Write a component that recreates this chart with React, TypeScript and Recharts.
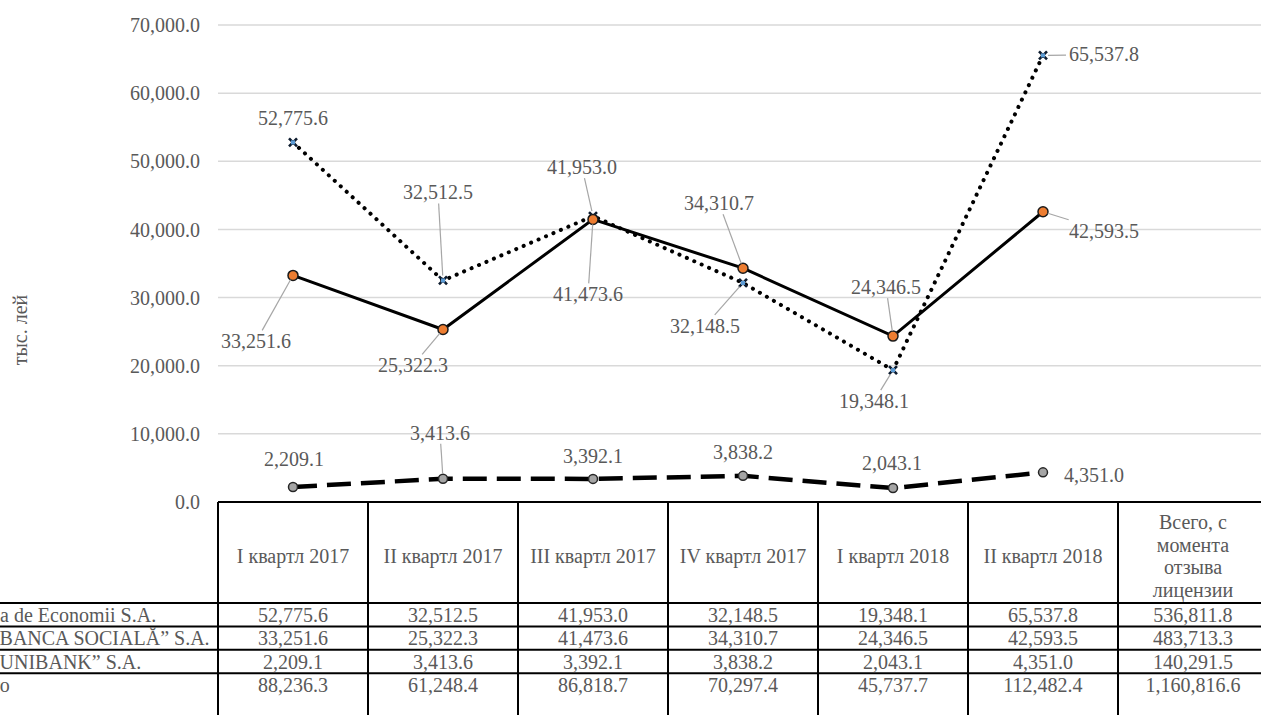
import React from 'react';
import { LineChart, Line, XAxis, YAxis, CartesianGrid, LabelList } from 'recharts';

const categories = [
  'I квартл 2017',
  'II квартл 2017',
  'III квартл 2017',
  'IV квартл 2017',
  'I квартл 2018',
  'II квартл 2018',
  'Всего, с\nмомента\nотзыва\nлицензии',
];
const seriesNames = ['Banca de Economii S.A.', 'BC „BANCA SOCIALĂ” S.A.', 'BC „UNIBANK” S.A.', 'Итого'];
const econValues = [52775.6, 32512.5, 41953.0, 32148.5, 19348.1, 65537.8];
const socValues = [33251.6, 25322.3, 41473.6, 34310.7, 24346.5, 42593.5];
const uniValues = [2209.1, 3413.6, 3392.1, 3838.2, 2043.1, 4351.0];
const sinceRevocation = [536811.8, 483713.3, 140291.5];
const totalValues = [88236.3, 61248.4, 86818.7, 70297.4, 45737.7, 112482.4, 1160816.6];
const yTicks = [0, 10000, 20000, 30000, 40000, 50000, 60000, 70000];

// label placement (dx, dy from point, leader flag)
const econLabelPos = [[0, -24, 0], [-5, -88, 1], [-11, -49, 1], [-38, 43, 1], [-19, 31, 1], [61, -1, 1]];
const socLabelPos = [[-37, 66, 1], [-30, 36, 1], [-5, 75, 1], [-24, -65, 1], [-7, -49, 1], [61, 19, 1]];
const uniLabelPos = [[1, -28, 0], [-3, -46, 1], [0, -23, 0], [0, -24, 0], [-1, -25, 0], [51, 3, 0]];

const FONT = "'Liberation Serif', 'DejaVu Serif', serif";
const TXT = '#595959';

const fmt = (v: number) =>
  v.toLocaleString('en-US', { minimumFractionDigits: 1, maximumFractionDigits: 1 });

const data = categories.map((c, i) => ({
  cat: c,
  econ: i < econValues.length ? econValues[i] : null,
  soc: i < socValues.length ? socValues[i] : null,
  uni: i < uniValues.length ? uniValues[i] : null,
}));

const tableRows = [
  [...econValues, sinceRevocation[0]],
  [...socValues, sinceRevocation[1]],
  [...uniValues, sinceRevocation[2]],
  totalValues,
];

const HEADER_H = 101;
const ROW_H = 23.4;
const COL_W = 150;

const txtStyle = { fontFamily: FONT };

const TableTick = (props: any) => {
  const { x, y, payload, index } = props;
  const lines = String(payload.value).split('\n');
  const headerCenter = y + 54;
  const lh = 22.7;
  const startY = headerCenter - ((lines.length - 1) * lh) / 2;
  const bottom = y + 260;
  return (
    <g>
      {index === 0 && (
        <g>
          <line x1={x - COL_W / 2} y1={y} x2={x - COL_W / 2} y2={bottom} stroke="#000" strokeWidth={2} />
          {[0, 1, 2, 3].map((r) => (
            <line key={r} x1={-100} x2={1400} y1={y + HEADER_H + r * ROW_H} y2={y + HEADER_H + r * ROW_H} stroke="#000" strokeWidth={2} />
          ))}
          {seriesNames.map((n, r) => (
            <text key={n} x={x - COL_W / 2 - 259} y={y + HEADER_H + r * ROW_H + ROW_H / 2} dominantBaseline="central" fill={TXT} fontSize={20} style={txtStyle}>
              {n}
            </text>
          ))}
        </g>
      )}
      <line x1={x + COL_W / 2} y1={y} x2={x + COL_W / 2} y2={bottom} stroke="#000" strokeWidth={2} />
      {lines.map((l, i) => (
        <text key={i} x={x} y={startY + i * lh} textAnchor="middle" dominantBaseline="central" fill={TXT} fontSize={20} style={txtStyle}>
          {l}
        </text>
      ))}
      {tableRows.map((row, r) => (
        <text key={r} x={x} y={y + HEADER_H + r * ROW_H + ROW_H / 2} textAnchor="middle" dominantBaseline="central" fill={TXT} fontSize={20} style={txtStyle}>
          {fmt(row[index])}
        </text>
      ))}
    </g>
  );
};

const makeLabel = (pos: number[][]) => (p: any) => {
  const { index, value } = p;
  const px = p.x ?? p.viewBox?.x;
  const py = p.y ?? p.viewBox?.y;
  if (value == null || px == null || !pos[index]) return null;
  const [dx, dy, leader] = pos[index];
  const lx = px + dx;
  const ly = py + dy;
  let leaderEl = null;
  if (leader) {
    const hw = 38;
    const hh = 11;
    const vx = px - lx;
    const vy = py - ly;
    const t = Math.min(vx !== 0 ? hw / Math.abs(vx) : Infinity, vy !== 0 ? hh / Math.abs(vy) : Infinity);
    const sx = lx + vx * t;
    const sy = ly + vy * t;
    const len = Math.hypot(vx, vy);
    const ex = px - (vx / len) * 5;
    const ey = py - (vy / len) * 5;
    if (Math.hypot(ex - sx, ey - sy) > 3) {
      leaderEl = <line x1={sx} y1={sy} x2={ex} y2={ey} stroke="#a6a6a6" strokeWidth={1.2} />;
    }
  }
  return (
    <g>
      {leaderEl}
      <text x={lx} y={ly} textAnchor="middle" dominantBaseline="central" fill={TXT} fontSize={20} style={txtStyle}>
        {fmt(value)}
      </text>
    </g>
  );
};

const StarDot = (p: any) => {
  const { cx, cy, index } = p;
  if (cx == null || cy == null || p.value == null) return <g key={index} />;
  return (
    <g key={index}>
      <path d={`M${cx - 4},${cy - 4}L${cx + 4},${cy + 4}M${cx + 4},${cy - 4}L${cx - 4},${cy + 4}`} stroke="#0d1b2e" strokeWidth={2.6} />
      <rect x={cx - 2} y={cy - 2} width={4} height={4} fill="#5b9bd5" />
    </g>
  );
};

const YTitle = () => (
  <text transform="translate(20,330) rotate(-90)" textAnchor="middle" dominantBaseline="central" fill={TXT} fontSize={20} style={txtStyle}>
    тыс. лей
  </text>
);

export default function App() {
  return (
    <div style={{ position: 'absolute', left: 0, top: 0, width: 1261, height: 715, overflow: 'hidden', background: '#fff', fontFamily: FONT }}>
      <LineChart width={1268} height={740} data={data} margin={{ top: 25, right: 0, bottom: 0, left: 0 }} style={{ fontFamily: FONT }}>
        <CartesianGrid vertical={false} stroke="#d9d9d9" strokeWidth={1.5} />
        <XAxis
          dataKey="cat"
          height={238}
          interval={0}
          padding={{ left: 75, right: 75 }}
          tickLine={false}
          tickSize={0}
          tickMargin={0}
          axisLine={{ stroke: '#000', strokeWidth: 2 }}
          tick={(p: any) => <TableTick {...p} />}
        />
        <YAxis
          width={218}
          domain={[0, 70000]}
          ticks={yTicks}
          interval={0}
          axisLine={false}
          tickLine={false}
          tickMargin={12}
          tickFormatter={fmt}
          tick={{ fill: TXT, fontSize: 20, style: txtStyle }}
          label={{ content: () => <YTitle /> }}
        />
        <Line
          type="linear"
          dataKey="econ"
          stroke="#000"
          strokeWidth={4}
          strokeDasharray="0.1 8"
          strokeLinecap="round"
          dot={(p: any) => <StarDot {...p} />}
          activeDot={false}
          isAnimationActive={false}
        >
          <LabelList dataKey="econ" content={makeLabel(econLabelPos)} />
        </Line>
        <Line
          type="linear"
          dataKey="soc"
          stroke="#000"
          strokeWidth={3}
          dot={{ r: 5, fill: '#ED7D31', stroke: '#1a1a1a', strokeWidth: 1.5 }}
          activeDot={false}
          isAnimationActive={false}
        >
          <LabelList dataKey="soc" content={makeLabel(socLabelPos)} />
        </Line>
        <Line
          type="linear"
          dataKey="uni"
          stroke="#000"
          strokeWidth={4.5}
          strokeDasharray="24 10"
          dot={{ r: 4.5, fill: '#A5A5A5', stroke: '#262626', strokeWidth: 1.5, strokeDasharray: '' }}
          activeDot={false}
          isAnimationActive={false}
        >
          <LabelList dataKey="uni" content={makeLabel(uniLabelPos)} />
        </Line>
      </LineChart>
    </div>
  );
}
